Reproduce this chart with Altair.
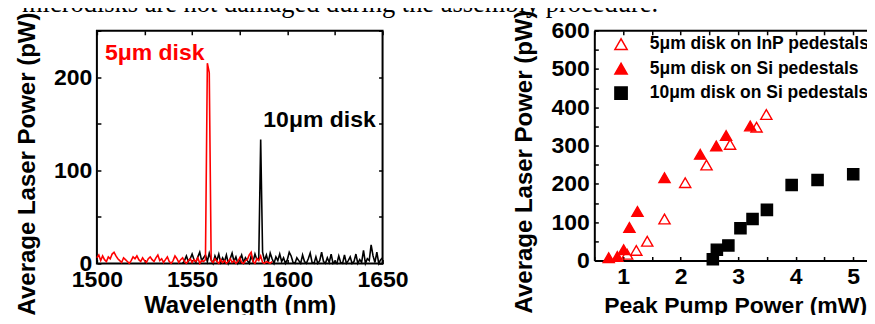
import altair as alt
import pandas as pd

# ---------------- data ----------------
top_text = ["microdisks are not damaged during the assembly procedure."]

red_wl = list(range(1500, 1593))
red_pw = [6, 9, 3, 8, 4, 2, 7, 5, 10, 12,
          8, 5, 3, 1, 6, 4, 2, 0, 3, 7,
          5, 8, 4, 2, 6, 3, 1, 5, 7, 4,
          2, 6, 9, 3, 5, 1, 4, 7, 2, 0,
          3, 8, 5, 1, 4, 6, 2, 0, 3, 5,
          1, 4, 2, 6, 0, 3, 2, 4, 215, 205,
          3, 1, 5, 2, 0, 4, 1, 3, 0, 2,
          5, 1, 3, 0, 2, 6, 1, 0, 3, 4,
          9, 12, 2, 0, 5, 3, 8, 1, 0, 2,
          1, 0, 2]

black_wl = list(range(1545, 1651))
black_pw = [0, 3, 8, 2, 5,
            10, 4, 1, 7, 12, 3, 6, 9, 2, 11,
            4, 0, 8, 3, 10, 1, 6, 2, 9, 0,
            5, 11, 2, 7, 0, 4, 9, 1, 6, 3,
            0, 8, 2, 10, 4, 6, 133, 12, 3, 9,
            1, 11, 5, 0, 7, 3, 10, 2, 6, 0,
            4, 12, 8, 1, 0, 6, 3, 0, 9, 2,
            0, 5, 11, 1, 0, 7, 0, 3, 12, 2,
            0, 6, 1, 10, 0, 2, 0, 8, 1, 0,
            9, 0, 3, 7, 0, 2, 10, 0, 4, 1,
            14, 0, 5, 3, 20, 8, 1, 12, 0, 4,
            6]

spec_labels = ["5μm disk", "10μm disk"]
spec_label_wl = [1504.2, 1587.4]
spec_label_pw = [218, 146]
spec_label_col = ["#ff0000", "#000000"]

series_names = ["5μm disk on InP pedestals", "5μm disk on Si pedestals", "10μm disk on Si pedestals"]
inp_x = [1.07, 1.23, 1.42, 1.72, 2.08, 2.45, 2.86, 3.32, 3.49]
inp_y = [16, 26, 50, 108, 203, 249, 303, 348, 381]
si5_x = [0.75, 0.90, 1.01, 1.11, 1.25, 1.72, 2.34, 2.62, 2.79, 3.21]
si5_y = [7, 10, 28, 86, 128, 216, 277, 299, 326, 351]
si10_x = [2.56, 2.63, 2.83, 3.04, 3.25, 3.50, 3.93, 4.38, 5.00]
si10_y = [3, 28, 39, 84, 108, 132, 197, 210, 225]

# ---------------- layout ----------------
LW, LH = 286, 233
RW, RH = 273, 230
GAP = 212
RX_MAX = 0.5 + RW / 57.6
TICK = 4
FONT = "Liberation Sans"
TXT_FS = 26.5
TXT_Y = -40.0
PAD_TOP = -18.5
PAD_BOTTOM = -5.0
PAD_RIGHT = -3.0


def tick_dash(length):
    return [TICK, length - 2 * TICK, TICK, 3000]


# ---------------- left panel ----------------
black_df = pd.DataFrame({"wl": black_wl, "pw": black_pw})
red_df = pd.DataFrame({"wl": red_wl, "pw": red_pw})
lab_df = pd.DataFrame({"wl": spec_label_wl, "pw": spec_label_pw,
                       "label": spec_labels, "c": spec_label_col})

axL_x = alt.Axis(values=[1500 + 25 * i for i in range(7)],
                 labelExpr="datum.value % 50 == 0 ? format(datum.value, 'd') : ''",
                 grid=True, gridDash=tick_dash(LH), gridColor="black",
                 gridWidth=1.5, gridOpacity=1, ticks=False, domain=False,
                 labelFlush=False, labelOverlap=False, labelPadding=23,
                 labelBaseline="alphabetic", titleY=49.5,
                 titleBaseline="alphabetic", titleLimit=500)
axL_y = alt.Axis(values=[50 * i for i in range(6)],
                 labelExpr="datum.value % 100 == 0 ? format(datum.value, 'd') : ''",
                 grid=True, gridDash=tick_dash(LW), gridColor="black",
                 gridWidth=1.5, gridOpacity=1, ticks=False, domain=False,
                 labelFlush=False, labelOverlap=False, labelPadding=5,
                 titleX=-69, titleY=133, titleAlign="center",
                 titleBaseline="middle", titleAngle=270, titleLimit=500)

xL = alt.X("wl:Q", scale=alt.Scale(domain=[1500, 1650], nice=False, zero=False),
           axis=axL_x, title="Wavelength (nm)")
yL = alt.Y("pw:Q", scale=alt.Scale(domain=[0, 250], nice=False),
           axis=axL_y, title="Average Laser Power (pW)")

line_black = alt.Chart(black_df).mark_line(color="black", strokeWidth=1.6).encode(x=xL, y=yL)
line_red = alt.Chart(red_df).mark_line(color="#ff0000", strokeWidth=1.6).encode(x=xL, y=yL)
labels = alt.Chart(lab_df).mark_text(align="left", baseline="alphabetic", font=FONT,
                                     fontWeight="bold", fontSize=23).encode(
    x=xL, y=yL, text="label:N", color=alt.Color("c:N", scale=None))

# cropped running text of the page, above the figure (clipped by the page edge)
page_text = alt.Chart(pd.DataFrame({"t": top_text})).mark_text(
    align="left", baseline="top", font="Liberation Serif", fontSize=TXT_FS,
    color="black").encode(x=alt.value(-75), y=alt.value(TXT_Y), text="t:N")

left = alt.layer(line_black, line_red, labels, page_text).properties(
    width=LW, height=LH, view=alt.ViewBackground(stroke="black", strokeWidth=2))

# ---------------- right panel ----------------
pts = pd.DataFrame({
    "pp": inp_x + si5_x + si10_x,
    "alp": inp_y + si5_y + si10_y,
    "series": [series_names[0]] * len(inp_x) + [series_names[1]] * len(si5_x)
              + [series_names[2]] * len(si10_x),
})

axR_x = alt.Axis(values=[0.5 * i for i in range(1, 11)],
                 labelExpr="datum.value % 1 == 0 ? format(datum.value, 'd') : ''",
                 grid=True, gridDash=tick_dash(RH), gridColor="black",
                 gridWidth=1.5, gridOpacity=1, ticks=False, domain=True,
                 domainColor="black", domainWidth=2,
                 labelFlush=False, labelOverlap=False, labelPadding=23,
                 labelBaseline="alphabetic", titleX=141, titleAlign="center",
                 titleY=52.5, titleBaseline="alphabetic", titleFontSize=23,
                 titleLimit=500)
axR_y = alt.Axis(values=[50 * i for i in range(13)],
                 labelExpr="datum.value % 100 == 0 ? format(datum.value, 'd') : ''",
                 grid=True, gridDash=[TICK, 3000], gridColor="black",
                 gridWidth=1.5, gridOpacity=1, ticks=False, domain=True,
                 domainColor="black", domainWidth=2,
                 labelFlush=False, labelOverlap=False, labelPadding=5,
                 titleX=-70, titleY=131, titleAlign="center",
                 titleBaseline="middle", titleAngle=270, titleLimit=500)

# legend is lifted to the concat level: position it relative to the left plot origin
leg = alt.Legend(title=None, orient="none", legendX=516, legendY=4.75,
                 labelFont=FONT, labelFontWeight="bold", labelFontSize=17.5,
                 labelColor="black", labelLimit=400, symbolSize=150,
                 symbolStrokeWidth=1.5, labelOffset=20, rowPadding=5.5, padding=0)

points = alt.Chart(pts).mark_point(opacity=1, fillOpacity=1, strokeWidth=1.4, size=125).encode(
    x=alt.X("pp:Q", scale=alt.Scale(domain=[0.5, RX_MAX], nice=False, zero=False),
            axis=axR_x, title="Peak Pump Power (mW)"),
    y=alt.Y("alp:Q", scale=alt.Scale(domain=[0, 600], nice=False),
            axis=axR_y, title="Average Laser Power (pW)"),
    shape=alt.Shape("series:N", scale=alt.Scale(domain=series_names,
                    range=["triangle-up", "triangle-up", "square"]), legend=leg),
    fill=alt.Fill("series:N", scale=alt.Scale(domain=series_names,
                  range=["transparent", "#ff0000", "#000000"]), legend=leg),
    stroke=alt.Stroke("series:N", scale=alt.Scale(domain=series_names,
                      range=["#ff0000", "#ff0000", "#000000"]), legend=leg),
)

top_line = alt.Chart(pd.DataFrame({"d": [0]})).mark_rule(color="black", strokeWidth=2).encode(
    x=alt.value(0), x2=alt.value(RW), y=alt.value(0))

right = alt.layer(points, top_line).properties(width=RW, height=RH)

chart = alt.hconcat(left, right, spacing=GAP, bounds="flush").properties(
    padding={"left": 6, "top": PAD_TOP, "right": PAD_RIGHT, "bottom": PAD_BOTTOM}
).configure_view(stroke="transparent").configure_axis(
    labelFont=FONT, labelFontWeight="bold", labelFontSize=23, labelColor="black",
    titleFont=FONT, titleFontWeight="bold", titleFontSize=24, titleColor="black"
)

chart.save("out.html", embed_options={"renderer": "svg", "actions": False})
